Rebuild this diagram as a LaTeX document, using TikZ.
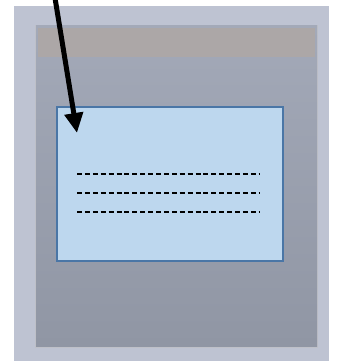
\documentclass[tikz,border=0pt]{standalone}
\usetikzlibrary{arrows.meta}
\definecolor{outerbg}{HTML}{BEC3D2}
\definecolor{bagtop}{HTML}{A3A9B8}
\definecolor{bagbot}{HTML}{9096A4}
\definecolor{band}{HTML}{ACA7A7}
\definecolor{labelfill}{HTML}{BDD7EE}
\definecolor{labeldraw}{HTML}{4A76A6}
\tikzset{
  dashline/.style={line width=2pt, dash pattern=on 5pt off 2.9pt, black},
  pointer/.style={line width=5pt, -{Triangle[length=20pt,width=18pt]}, black},
}
\begin{document}
\begin{tikzpicture}[x=1pt,y=-1pt]
\useasboundingbox (0,0) rectangle (340,361);
\fill[white] (0,0) rectangle (340,361);
\fill[outerbg] (14,6) rectangle (329,361);
\fill[black!25, opacity=0.5] (35,25) rectangle (318,348);
\shade[top color=bagtop, bottom color=bagbot] (36,26) rectangle (317,346);
\fill[band] (38,28) rectangle (315,57);
\node[draw=labeldraw, line width=2pt, fill=labelfill, inner sep=0pt, minimum width=226pt, minimum height=154pt] (label) at (169.5,184) {};
\coordinate (l1a) at (77,174); \coordinate (l1b) at (259,174);
\coordinate (l2a) at (77,193); \coordinate (l2b) at (259,193);
\coordinate (l3a) at (77,212); \coordinate (l3b) at (259,212);
\draw[dashline] (l1a) -- (l1b);
\draw[dashline] (l2a) -- (l2b);
\draw[dashline] (l3a) -- (l3b);
\coordinate (start) at (55,-2);
\coordinate (tip) at (77,133);
\draw[pointer] (start) -- (tip);
\end{tikzpicture}
\end{document}
